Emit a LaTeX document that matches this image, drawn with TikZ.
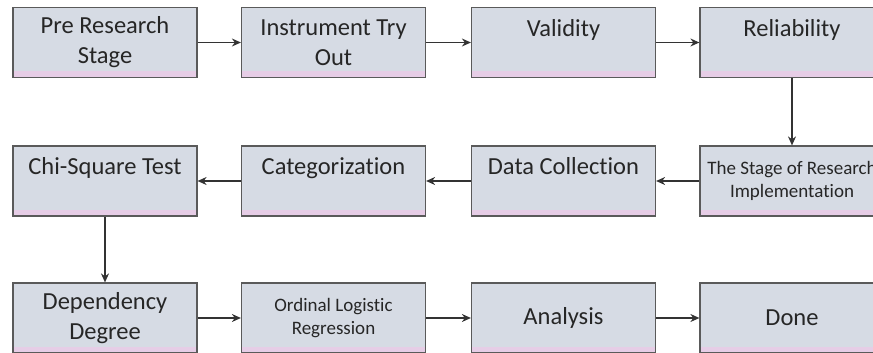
\documentclass[tikz,border=0pt]{standalone}
\usepackage{fontspec}
\setmainfont[Ligatures=CommonOff]{Carlito}
\usetikzlibrary{arrows.meta}
\definecolor{boxfill}{HTML}{D6DBE4}
\definecolor{boxstrip}{HTML}{E6CDE6}
\definecolor{boxline}{HTML}{5A5A5A}
\newcommand{\bigtxt}{\fontsize{24.5}{30}\selectfont}
\newcommand{\smalltxt}{\fontsize{19}{23}\selectfont}

\begin{document}
\begin{tikzpicture}[x=1pt, y=-1pt, line width=1.2pt,
  stagebox/.style={draw=boxline, fill=boxfill, minimum width=184pt, minimum height=70pt,
    inner sep=0pt, align=center, font=\bigtxt, text=black!85,
    path picture={\fill[boxstrip] ([yshift=6pt]path picture bounding box.south west)
      rectangle (path picture bounding box.south east);}},
  flow/.style={-{Stealth[length=9pt, width=8pt]}, line width=1.3pt, draw=black!80}]
  \useasboundingbox (0,0) rectangle (873,353);
  % erste Reihe
  \node[stagebox] (pre)  at (105,42.5)   {Pre Research\\Stage};
  \node[stagebox] (try)  at (333.5,42.5) {Instrument Try\\Out};
  \node[stagebox] (val)  at (563.5,42.5) {Validity\\\mbox{}};
  \node[stagebox] (rel)  at (792,42.5)   {Reliability\\\mbox{}};
  % zweite Reihe (von rechts nach links)
  \node[stagebox, font=\smalltxt] (impl) at (792,181) {The Stage of Research\\Implementation};
  \node[stagebox] (coll) at (563.5,181) {Data Collection\\\mbox{}};
  \node[stagebox] (cat)  at (333.5,181) {Categorization\\\mbox{}};
  \node[stagebox] (chi)  at (105,181)   {Chi-Square Test\\\mbox{}};
  % dritte Reihe
  \node[stagebox] (dep)  at (105,318)   {Dependency\\Degree};
  \node[stagebox, font=\smalltxt] (olr) at (333.5,318) {Ordinal Logistic\\Regression};
  \node[stagebox] (ana)  at (563.5,318) {Analysis};
  \node[stagebox] (done) at (792,318)   {Done};
  % Pfeile
  \draw[flow] (pre) -- (try);
  \draw[flow] (try) -- (val);
  \draw[flow] (val) -- (rel);
  \draw[flow] (rel) -- (impl);
  \draw[flow] (impl) -- (coll);
  \draw[flow] (coll) -- (cat);
  \draw[flow] (cat) -- (chi);
  \draw[flow] (chi) -- (dep);
  \draw[flow] (dep) -- (olr);
  \draw[flow] (olr) -- (ana);
  \draw[flow] (ana) -- (done);
\end{tikzpicture}
\end{document}
